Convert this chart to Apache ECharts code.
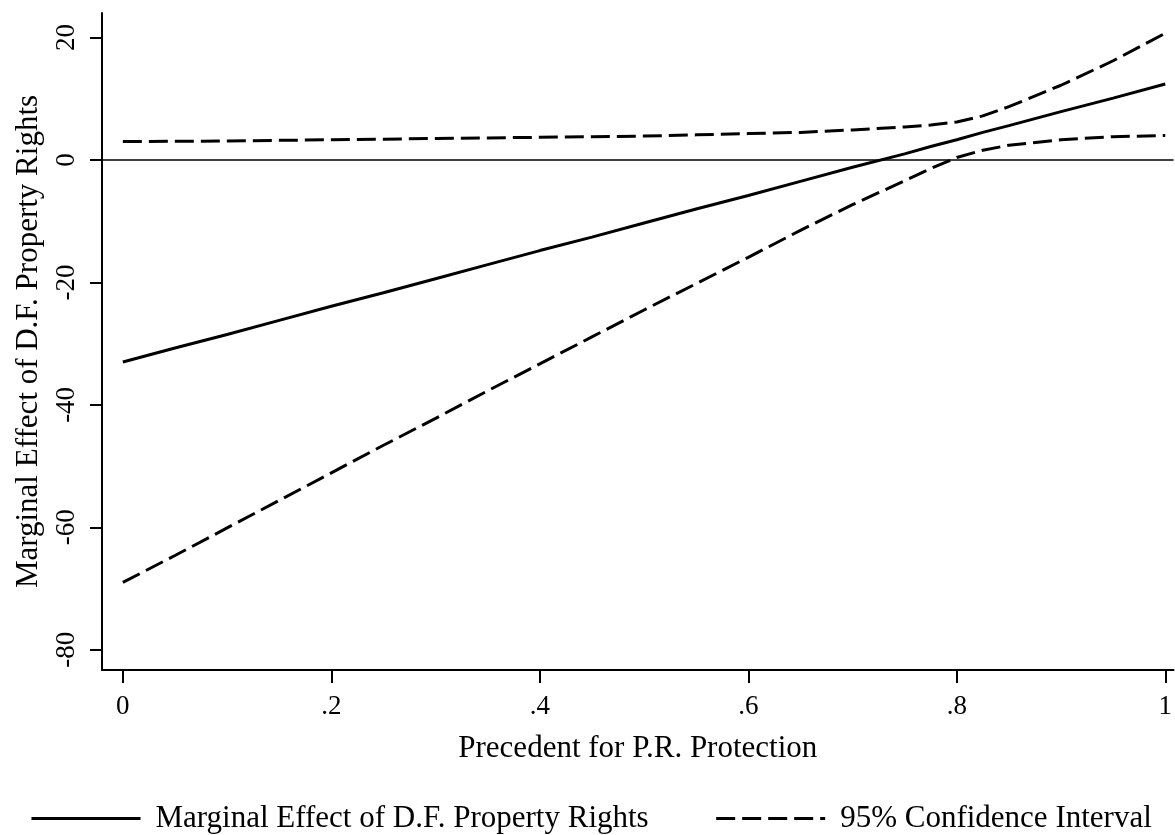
<!DOCTYPE html>
<html>
<head>
<meta charset="utf-8">
<script src="https://cdn.jsdelivr.net/npm/echarts@6/dist/echarts.min.js"></script>
<style>
  html, body { margin: 0; padding: 0; background: #fff; }
  #chart { width: 1175px; height: 835px; }
</style>
</head>
<body>
<div id="chart"></div>
<script>
// ---- data ----
const xVals = [0, .05, .1, .15, .2, .25, .3, .35, .4, .45, .5, .55, .6, .65, .7, .75, .775, .8, .825, .85, .9, .95, 1];
const effect = [-33, -30.7, -28.5, -26.2, -23.9, -21.7, -19.4, -17.1, -14.8, -12.6, -10.3, -8.0, -5.8, -3.5, -1.2, 1.0, 2.2, 3.3, 4.5, 5.6, 7.9, 10.1, 12.4];
const upperCI = [3.0, 3.05, 3.1, 3.2, 3.3, 3.4, 3.5, 3.6, 3.7, 3.8, 3.9, 4.1, 4.3, 4.5, 4.9, 5.4, 5.7, 6.2, 7.2, 8.7, 12.2, 16.2, 20.7];
const lowerCI = [-69, -64.6, -60.1, -55.6, -51.1, -46.6, -42.2, -37.7, -33.3, -28.9, -24.5, -20.2, -15.9, -11.5, -7.3, -3.4, -1.4, 0.4, 1.6, 2.4, 3.3, 3.8, 4.0];
const xTicks = [0, 0.2, 0.4, 0.6, 0.8, 1];
const xTickLabels = ['0', '.2', '.4', '.6', '.8', '1'];
const yTicks = [-80, -60, -40, -20, 0, 20];
const yTickLabels = ['-80', '-60', '-40', '-20', '0', '20'];
const effectName = 'Marginal Effect of D.F. Property Rights';
const ciName = '95% Confidence Interval';
const xTitle = 'Precedent for P.R. Protection';
const yTitle = 'Marginal Effect of D.F. Property Rights';

const pairs = (ys) => xVals.map((x, i) => [x, ys[i]]);
const FONT = '"Liberation Serif", "Times New Roman", serif';

const chart = echarts.init(document.getElementById('chart'), null, { renderer: 'canvas' });
chart.setOption({
  animation: false,
  backgroundColor: '#fff',
  textStyle: { fontFamily: FONT, color: '#000' },
  grid: { left: 102, right: 0, top: 13, bottom: 165, containLabel: false },
  legend: {
    left: 30, top: 803, padding: 0,
    itemWidth: 109, itemHeight: 14, itemGap: 66,
    data: [effectName, ciName],
    itemStyle: { opacity: 0, borderWidth: 0 },
    lineStyle: { width: 3, color: '#000' },
    textStyle: { fontFamily: FONT, fontSize: 31, color: '#000', lineHeight: 31, padding: [0, 0, 0, 10] }
  },
  xAxis: {
    type: 'value', min: -0.02, max: 1.008,
    name: xTitle, nameLocation: 'middle', nameGap: 63,
    nameTextStyle: { fontFamily: FONT, fontSize: 31, color: '#000' },
    axisLine: { show: true, onZero: false, lineStyle: { color: '#000', width: 2 } },
    axisTick: { show: true, inside: false, length: 13, lineStyle: { color: '#000', width: 2 }, customValues: xTicks },
    axisLabel: {
      fontFamily: FONT, fontSize: 27, color: '#000', margin: 23,
      customValues: xTicks,
      formatter: (v) => { const i = xTicks.findIndex(t => Math.abs(t - v) < 1e-9); return i >= 0 ? xTickLabels[i] : ''; }
    },
    splitLine: { show: false }
  },
  yAxis: {
    type: 'value', min: -83.3, max: 24,
    name: yTitle, nameLocation: 'middle', nameGap: 58, nameRotate: 90,
    nameTextStyle: { fontFamily: FONT, fontSize: 31, color: '#000' },
    axisLine: { show: true, onZero: false, lineStyle: { color: '#000', width: 2 } },
    axisTick: { show: true, inside: false, length: 12, lineStyle: { color: '#000', width: 2 }, customValues: yTicks },
    axisLabel: {
      fontFamily: FONT, fontSize: 27, color: '#000', margin: 22, rotate: 90,
      customValues: yTicks,
      formatter: (v) => { const i = yTicks.findIndex(t => Math.abs(t - v) < 1e-9); return i >= 0 ? yTickLabels[i] : ''; }
    },
    splitLine: { show: false }
  },
  series: [
    {
      name: effectName, type: 'line', data: pairs(effect), symbol: 'none', smooth: false,
      lineStyle: { color: '#000', width: 3, type: 'solid' }, itemStyle: { color: '#000' },
      markLine: {
        silent: true, symbol: ['none', 'none'], label: { show: false },
        lineStyle: { color: '#000', width: 1.5, type: 'solid' },
        data: [{ yAxis: 0 }]
      },
      z: 3
    },
    {
      name: ciName, type: 'line', data: pairs(upperCI), symbol: 'none',
      lineStyle: { color: '#000', width: 3, type: [19, 7] }, itemStyle: { color: '#000' }, z: 3
    },
    {
      name: ciName, type: 'line', data: pairs(lowerCI), symbol: 'none',
      lineStyle: { color: '#000', width: 3, type: [19, 7] }, itemStyle: { color: '#000' }, z: 3
    }
  ]
});
</script>
</body>
</html>
